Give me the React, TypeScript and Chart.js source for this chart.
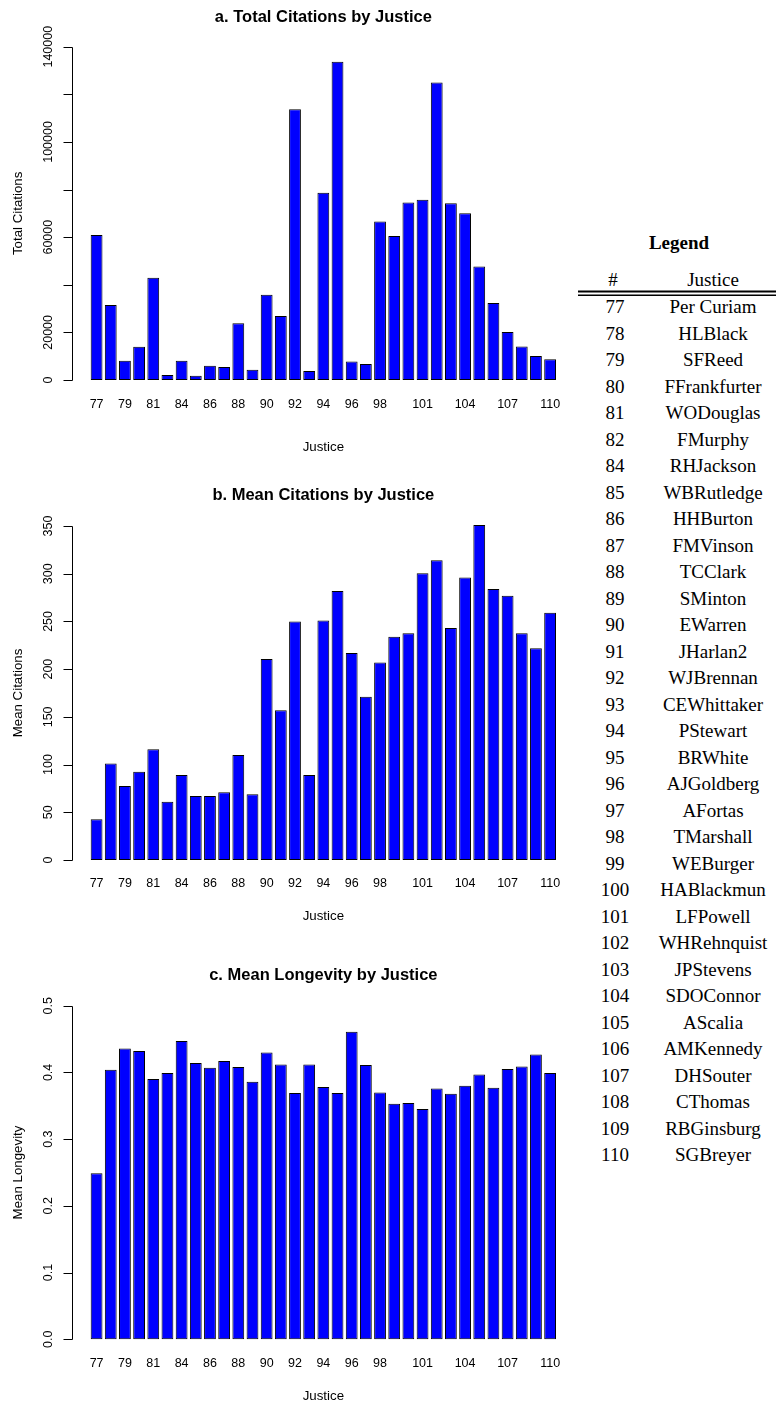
import React, { useEffect, useRef } from 'react';
import { Chart, registerables } from 'chart.js';

Chart.register(...registerables);

// ---------------- data ----------------
const justiceIds = ['77','78','79','80','81','82','84','85','86','87','88','89','90','91','92','93','94','95','96','97','98','99','100','101','102','103','104','105','106','107','108','109','110'];
const justiceNames = ['Per Curiam','HLBlack','SFReed','FFrankfurter','WODouglas','FMurphy','RHJackson','WBRutledge','HHBurton','FMVinson','TCClark','SMinton','EWarren','JHarlan2','WJBrennan','CEWhittaker','PStewart','BRWhite','AJGoldberg','AFortas','TMarshall','WEBurger','HABlackmun','LFPowell','WHRehnquist','JPStevens','SDOConnor','AScalia','AMKennedy','DHSouter','CThomas','RBGinsburg','SGBreyer'];
const shownXLabels = ['77','79','81','84','86','88','90','92','94','96','98','101','104','107','110'];

const totalCitations = [60900, 31500, 8100, 14000, 43000, 2100, 8100, 1800, 6000, 5500, 23800, 4300, 35800, 26900, 113700, 3800, 78700, 133700, 7800, 6700, 66600, 60500, 74600, 75700, 125000, 74200, 70000, 47700, 32300, 20200, 14100, 10100, 8700];
const meanCitations = [42.6, 101, 77.5, 92.5, 116, 61, 89, 67, 67, 71, 110, 69, 210.5, 157, 250, 89, 251, 282, 217, 171, 207, 234, 237.6, 300.5, 314, 243, 296, 351, 284, 277, 237.6, 222, 259];
const meanLongevity = [0.249, 0.404, 0.436, 0.432, 0.39, 0.399, 0.447, 0.414, 0.407, 0.417, 0.408, 0.386, 0.43, 0.412, 0.369, 0.412, 0.378, 0.369, 0.461, 0.411, 0.37, 0.353, 0.354, 0.345, 0.376, 0.368, 0.38, 0.397, 0.377, 0.405, 0.409, 0.427, 0.399];

const totalTicks = [0, 20000, 40000, 60000, 80000, 100000, 120000, 140000];
const totalTickLabels = ['0', '20000', '', '60000', '', '100000', '', '140000'];
const meanTicks = [0, 50, 100, 150, 200, 250, 300, 350];
const meanTickLabels = ['0', '50', '100', '150', '200', '250', '300', '350'];
const longevityTicks = [0, 0.1, 0.2, 0.3, 0.4, 0.5];
const longevityTickLabels = ['0.0', '0.1', '0.2', '0.3', '0.4', '0.5'];

// ---------------- layout ----------------
const SANS = '"Liberation Sans", Arial, Helvetica, sans-serif';
const SERIF = '"Liberation Serif", "Times New Roman", serif';
const CANVAS_W = 570;
const AREA_LEFT = 89.5;
const AREA_RIGHT = 557.2;
const TICK_FONT = 12.5;
const LAB_FONT = 13.3;
const TITLE_FONT = 16.5;

const panels = [
  { top: 0, h: 468, areaTop: 46.7, areaBottom: 380, titleBase: 21.7, tickGap: 25, xlabY: 447,
    title: 'a. Total Citations by Justice', ylab: 'Total Citations', values: totalCitations, ticks: totalTicks, tickLabels: totalTickLabels },
  { top: 468, h: 468, areaTop: 526, areaBottom: 860, titleBase: 500, tickGap: 23.5, xlabY: 916,
    title: 'b. Mean Citations by Justice', ylab: 'Mean Citations', values: meanCitations, ticks: meanTicks, tickLabels: meanTickLabels },
  { top: 936, h: 468, areaTop: 1005.7, areaBottom: 1339.3, titleBase: 980, tickGap: 24.5, xlabY: 1396,
    title: 'c. Mean Longevity by Justice', ylab: 'Mean Longevity', values: meanLongevity, ticks: longevityTicks, tickLabels: longevityTickLabels },
];

const rAxisPlugin = {
  id: 'rAxis',
  afterDraw(chart: any, _args: any, opts: any) {
    const { ctx, chartArea } = chart;
    const y = chart.scales.y;
    ctx.save();
    ctx.fillStyle = '#000';
    ctx.strokeStyle = '#000';
    // main title
    ctx.font = `bold ${TITLE_FONT}px ${SANS}`;
    ctx.textAlign = 'center';
    ctx.textBaseline = 'alphabetic';
    ctx.fillText(opts.title, (chartArea.left + chartArea.right) / 2, opts.titleBase);
    // y axis line + ticks
    const ax = Math.round(chartArea.left - 17.5) + 0.5;
    const ticks: number[] = opts.ticks;
    const yTop = y.getPixelForValue(ticks[ticks.length - 1]);
    const yBot = y.getPixelForValue(ticks[0]);
    ctx.lineWidth = 1;
    ctx.beginPath();
    ctx.moveTo(ax, Math.round(yBot) + 0.5);
    ctx.lineTo(ax, Math.round(yTop) + 0.5);
    ticks.forEach((t) => {
      const py = Math.round(y.getPixelForValue(t)) + 0.5;
      ctx.moveTo(ax, py);
      ctx.lineTo(ax - 9, py);
    });
    ctx.stroke();
    // tick labels, rotated
    ctx.font = `${TICK_FONT}px ${SANS}`;
    ctx.textAlign = 'center';
    ctx.textBaseline = 'middle';
    ticks.forEach((t, i) => {
      const lab = opts.tickLabels[i];
      if (!lab) return;
      const py = y.getPixelForValue(t);
      ctx.save();
      ctx.translate(chartArea.left - 41, py);
      ctx.rotate(-Math.PI / 2);
      ctx.fillText(lab, 0, 0);
      ctx.restore();
    });
    // y label
    ctx.font = `${LAB_FONT}px ${SANS}`;
    ctx.save();
    ctx.translate(18, (yTop + yBot) / 2);
    ctx.rotate(-Math.PI / 2);
    ctx.fillText(opts.ylab, 0, 0);
    ctx.restore();
    ctx.restore();
  },
};

function Panel({ cfg }: { cfg: any }) {
  const ref = useRef<HTMLCanvasElement | null>(null);
  useEffect(() => {
    const areaTop = cfg.areaTop - cfg.top;
    const areaBottom = cfg.areaBottom - cfg.top;
    const xH = cfg.xlabY - cfg.areaBottom + LAB_FONT / 2;
    const chart = new Chart(ref.current as HTMLCanvasElement, {
      type: 'bar',
      data: {
        labels: justiceIds,
        datasets: [{
          data: cfg.values,
          backgroundColor: '#0000ff',
          borderColor: '#000000',
          borderWidth: 1,
          borderSkipped: false,
          barPercentage: 1 / 1.2,
          categoryPercentage: 1,
          clip: false as any,
        }],
      },
      options: {
        animation: false,
        responsive: false,
        devicePixelRatio: 1,
        layout: {
          padding: {
            left: AREA_LEFT,
            right: CANVAS_W - AREA_RIGHT,
            top: areaTop,
            bottom: cfg.h - areaBottom - xH,
          },
        },
        plugins: {
          legend: { display: false },
          tooltip: { enabled: false },
          title: { display: false },
          rAxis: { title: cfg.title, titleBase: cfg.titleBase - cfg.top, ylab: cfg.ylab, ticks: cfg.ticks, tickLabels: cfg.tickLabels },
        } as any,
        scales: {
          x: {
            type: 'category',
            offset: true,
            border: { display: false },
            grid: { display: true, drawOnChartArea: false, drawTicks: true, tickLength: cfg.tickGap - TICK_FONT * 0.6, color: 'rgba(0,0,0,0)' },
            ticks: {
              autoSkip: false,
              maxRotation: 0,
              minRotation: 0,
              padding: 0,
              color: '#000',
              font: { family: SANS, size: TICK_FONT },
              callback: function (this: any, val: any) {
                const l = this.getLabelForValue(val);
                return shownXLabels.includes(l) ? l : '';
              },
            },
            title: {
              display: true,
              text: 'Justice',
              color: '#000',
              font: { family: SANS, size: LAB_FONT, lineHeight: 1 },
              padding: { top: 0, bottom: 0 },
            },
            afterFit: (s: any) => { s.height = xH; },
          },
          y: {
            display: false,
            min: 0,
            max: cfg.ticks[cfg.ticks.length - 1],
          },
        },
      },
      plugins: [rAxisPlugin as any],
    });
    return () => chart.destroy();
  }, []);
  return (
    <canvas
      ref={ref}
      width={CANVAS_W}
      height={cfg.h}
      style={{ position: 'absolute', left: 0, top: cfg.top, width: CANVAS_W, height: cfg.h }}
    />
  );
}

const ROW0 = 313.3;
const ROW_STEP = 26.5;

function LegendTable() {
  return (
    <svg width={776 - CANVAS_W} height={1404} style={{ position: 'absolute', left: CANVAS_W, top: 0 }}>
      <g fontFamily={SERIF} fill="#000">
        <text x={679 - CANVAS_W} y={249.3} textAnchor="middle" fontWeight="bold" fontSize={19}>Legend</text>
        <text x={613 - CANVAS_W} y={286} textAnchor="middle" fontSize={19}>#</text>
        <text x={713 - CANVAS_W} y={286} textAnchor="middle" fontSize={19}>Justice</text>
        <rect x={578 - CANVAS_W} y={290.5} width={206} height={2} fill="#000" />
        <rect x={578 - CANVAS_W} y={294.5} width={206} height={1.5} fill="#000" />
        {justiceIds.map((id, i) => (
          <g key={id}>
            <text x={615 - CANVAS_W} y={ROW0 + i * ROW_STEP} textAnchor="middle" fontSize={19}>{id}</text>
            <text x={713 - CANVAS_W} y={ROW0 + i * ROW_STEP} textAnchor="middle" fontSize={19}>{justiceNames[i]}</text>
          </g>
        ))}
      </g>
    </svg>
  );
}

export default function App() {
  return (
    <div style={{ position: 'absolute', left: 0, top: 0, width: 776, height: 1404, background: '#fff', overflow: 'hidden' }}>
      {panels.map((p) => (
        <Panel key={p.title} cfg={p} />
      ))}
      <LegendTable />
    </div>
  );
}
